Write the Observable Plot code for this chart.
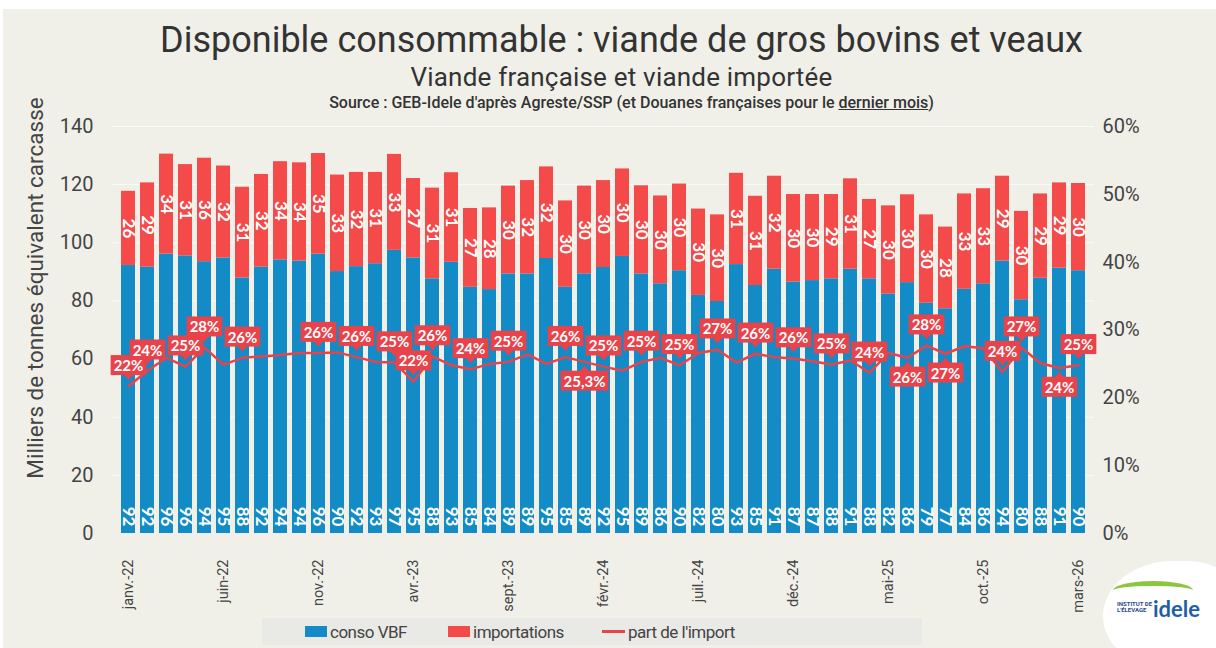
<!DOCTYPE html>
<html><head><meta charset="utf-8">
<script src="https://cdn.jsdelivr.net/npm/d3@7"></script>
<script src="https://cdn.jsdelivr.net/npm/@observablehq/plot@0.6"></script>
<style>
html,body{margin:0;padding:0;background:#fff;width:1216px;height:648px;overflow:hidden;}
#wrap{position:absolute;left:3px;top:9px;width:1213px;height:639px;background:#f0f0e9;font-family:Roboto,"Open Sans",sans-serif;color:#333;overflow:hidden;}
#title{position:absolute;left:12px;width:1213px;top:13px;text-align:center;font-size:36px;line-height:36px;letter-spacing:0px;color:#333;}
#subtitle{position:absolute;left:12px;width:1213px;top:55px;text-align:center;font-size:26px;line-height:26px;letter-spacing:0.2px;color:#333;}
#source{position:absolute;left:22px;width:1213px;top:86px;text-align:center;font-size:16px;line-height:16px;font-weight:500;letter-spacing:0px;color:#333;}
#source u{text-decoration:underline;}
#plotbox{position:absolute;left:0;top:106px;}
#ytitle{position:absolute;left:32px;top:268px;width:460px;margin-left:-230px;text-align:center;transform:rotate(-90deg);font-size:22.5px;line-height:22px;color:#444;white-space:nowrap;}
#legend{position:absolute;left:259px;top:609px;width:660px;height:27px;background:#e9e9e6;font-size:17px;letter-spacing:-0.5px;color:#444;}
.li{position:absolute;top:0;height:27px;display:flex;align-items:center;}
.sw{display:inline-block;width:22px;height:11px;margin-right:3px;}
.ln{display:inline-block;width:23px;height:3px;margin-right:3px;}
#logo{position:absolute;left:1100px;top:552px;width:140px;height:110px;background:#fff;border-radius:50% 40% 0 50%;}
#logo .t1{position:absolute;left:14px;top:40px;font-size:6px;line-height:6px;color:#2a4a8a;font-weight:bold;width:40px;}
#logo .t2{position:absolute;left:50px;top:34px;font-size:22px;font-weight:bold;color:#1f5fa8;font-family:Lato,Roboto,sans-serif;}
#logo .sw1{position:absolute;left:10px;top:20px;width:80px;height:14px;border-top:5px solid #8cc63f;border-radius:50%;}
</style></head>
<body>
<div id="wrap">
  <div id="title">Disponible consommable : viande de gros bovins et veaux</div>
  <div id="subtitle">Viande française et viande importée</div>
  <div id="source">Source : GEB-Idele d'après Agreste/SSP (et Douanes françaises pour le <u>dernier mois</u>)</div>
  <div id="ytitle">Milliers de tonnes équivalent carcasse</div>
  <div id="plotbox"></div>
  <div id="legend">
    <span class="li" style="left:43px"><span class="sw" style="background:#128bc6"></span>conso VBF</span>
    <span class="li" style="left:186px"><span class="sw" style="background:#f44a4a"></span>importations</span>
    <span class="li" style="left:340px"><span class="ln" style="background:#e8434a"></span>part de l'import</span>
  </div>
  <div id="logo"><div class="sw1"></div><div class="t1">INSTITUT DE L'ÉLEVAGE</div><div class="t2">idele</div></div>
</div>
<script>
const months = ["janv.-22","févr.-22","mars-22","avr.-22","mai-22","juin-22","juil.-22","août-22","sept.-22","oct.-22","nov.-22","déc.-22",
"janv.-23","févr.-23","mars-23","avr.-23","mai-23","juin-23","juil.-23","août-23","sept.-23","oct.-23","nov.-23","déc.-23",
"janv.-24","févr.-24","mars-24","avr.-24","mai-24","juin-24","juil.-24","août-24","sept.-24","oct.-24","nov.-24","déc.-24",
"janv.-25","févr.-25","mars-25","avr.-25","mai-25","juin-25","juil.-25","août-25","sept.-25","oct.-25","nov.-25","déc.-25",
"janv.-26","févr.-26","mars-26"];
const xTickLabels = ["janv.-22","juin-22","nov.-22","avr.-23","sept.-23","févr.-24","juil.-24","déc.-24","mai-25","oct.-25","mars-26"];
const consoVBF = [92.2,91.6,96.1,95.5,93.5,94.8,87.9,91.6,94.1,93.7,96.1,90.1,91.8,92.8,97.4,94.8,87.6,93.3,84.7,83.9,89.3,89.3,94.6,84.7,89.3,91.5,95.3,89.3,85.9,90.4,81.9,79.8,92.5,85.3,90.9,86.5,87.0,87.6,90.9,87.6,82.4,86.3,79.2,77.3,84.0,85.9,93.7,80.4,87.8,91.3,90.4];
const importations = [25.5,29.0,34.4,31.4,35.6,31.6,31.2,31.9,33.8,33.8,34.6,33.2,32.4,31.4,33.0,27.3,31.2,30.8,27.1,28.1,30.2,32.1,31.5,29.7,30.2,29.9,30.1,30.3,30.2,29.8,29.7,29.8,31.4,30.7,32.0,30.1,29.6,29.0,31.1,27.3,30.3,30.2,30.4,28.1,32.8,32.7,29.2,30.4,29.0,29.3,30.0];
const partImport = [21.7,24.0,25.9,24.6,27.4,24.9,25.9,26.1,26.3,26.6,26.6,26.7,26.0,25.3,25.2,22.4,26.1,24.8,24.2,25.0,25.3,26.4,25.0,26.0,25.3,24.6,24.0,25.3,25.9,24.8,26.6,27.1,25.2,26.5,26.0,25.8,25.4,24.9,25.5,23.7,26.6,25.9,27.7,26.5,27.6,27.3,23.8,27.4,25.1,24.4,24.8];
const shareLabelMonths = [0,1,3,4,6,10,12,14,15,16,18,20,23,24,25,27,29,31,33,35,37,39,41,42,43,46,47,49,50];
const shareLabelTexts = ["22%","24%","25%","28%","26%","26%","26%","25%","22%","26%","24%","25%","26%","25,3%","25%","25%","25%","27%","26%","26%","25%","24%","26%","28%","27%","24%","27%","24%","25%"];
const shareLabelBelow = [24,41,43,49];
const yTicks = [0,20,40,60,80,100,120,140];
const pctTicks = [0,10,20,30,40,50,60];

const BLUE = "#128bc6", RED = "#f44a4a", LINE = "#e8434a";
const YMAX = 140, PMAX = 60;
const toY = p => p * YMAX / PMAX;

const rows = months.map((m, i) => ({month: m, vbf: consoVBF[i], imp: importations[i], top: consoVBF[i] + importations[i], share: partImport[i]}));
const labRows = shareLabelMonths.map((i, k) => ({month: months[i], share: partImport[i], text: shareLabelTexts[k], below: shareLabelBelow.includes(i)}));

const chart = Plot.plot({
  width: 1213, height: 500,
  marginTop: 11, marginBottom: 82, marginLeft: 109, marginRight: 122,
  style: {background: "transparent", fontFamily: "Roboto, 'Open Sans', sans-serif", color: "#444", overflow: "visible"},
  x: {domain: months, padding: 0.25, label: null},
  y: {domain: [0, YMAX], label: null},
  marks: [
    Plot.gridY(yTicks.filter(d => d > 0), {stroke: "#ffffff", strokeOpacity: 0.7}),
    Plot.barY(rows, {x: "month", y1: 0, y2: "vbf", fill: BLUE}),
    Plot.barY(rows, {x: "month", y1: "vbf", y2: "top", fill: RED}),
    Plot.text(rows, {x: "month", y: d => d.vbf + d.imp / 2, text: d => String(Math.round(d.imp)), rotate: 90, fill: "#fff", fontWeight: "bold", fontSize: 17, fontFamily: "Lato, Roboto, sans-serif"}),
    Plot.text(rows, {x: "month", y: 0, dy: -17, text: d => String(Math.round(d.vbf)), rotate: 90, fill: "#fff", fontWeight: "bold", fontSize: 17, fontFamily: "Lato, Roboto, sans-serif"}),
    Plot.line(rows, {x: "month", y: d => toY(d.share), stroke: LINE, strokeWidth: 2.5}),
    Plot.text(labRows.filter(d => !d.below), {x: "month", y: d => toY(d.share), dy: -20, text: "text", className: "pctA", fill: "#fff", fontWeight: "bold", fontSize: 15, fontFamily: "Lato, Roboto, sans-serif"}),
    Plot.text(labRows.filter(d => d.below), {x: "month", y: d => toY(d.share), dy: 20, text: "text", className: "pctB", fill: "#fff", fontWeight: "bold", fontSize: 15, fontFamily: "Lato, Roboto, sans-serif"}),
    Plot.axisY(yTicks, {anchor: "left", tickSize: 0, tickPadding: 19, fontSize: 20, label: null}),
    Plot.axisY(pctTicks.map(toY), {anchor: "right", tickSize: 0, tickPadding: 8, fontSize: 20, tickFormat: d => Math.round(d * PMAX / YMAX) + "%", label: null}),
    Plot.axisX(xTickLabels, {anchor: "bottom", tickSize: 0, tickRotate: -90, tickPadding: 26, fontSize: 14.5, label: null})
  ]
});
document.getElementById("plotbox").append(chart);

const NS = "http://www.w3.org/2000/svg";
function boxify(sel, below) {
  chart.querySelectorAll(sel + " text").forEach(t => {
    const b = t.getBBox();
    const px = 3, py = 1;
    const r = document.createElementNS(NS, "rect");
    r.setAttribute("x", b.x - px); r.setAttribute("y", b.y - py);
    r.setAttribute("width", b.width + 2 * px); r.setAttribute("height", b.height + 2 * py);
    r.setAttribute("fill", LINE);
    const cx = b.x + b.width / 2;
    const tri = document.createElementNS(NS, "path");
    if (!below) {
      const yb = b.y + b.height + py;
      tri.setAttribute("d", `M${cx - 5},${yb - 1}L${cx + 5},${yb - 1}L${cx},${yb + 5}Z`);
    } else {
      const yt = b.y - py;
      tri.setAttribute("d", `M${cx - 5},${yt + 1}L${cx + 5},${yt + 1}L${cx},${yt - 5}Z`);
    }
    tri.setAttribute("fill", LINE);
    const tf = t.getAttribute("transform");
    if (tf) { r.setAttribute("transform", tf); tri.setAttribute("transform", tf); }
    t.parentNode.insertBefore(r, t);
    t.parentNode.insertBefore(tri, t);
  });
}
boxify("g.pctA", false);
boxify("g.pctB", true);
</script>
</body></html>
